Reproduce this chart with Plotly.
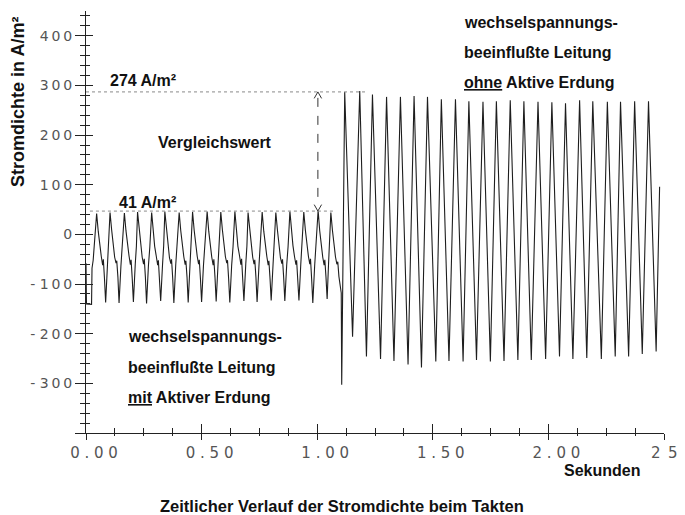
import plotly.graph_objects as go

# ---- data ----
# part 1: "mit Aktiver Erdung" (t in s, current density in A/m²)
t_mit = [0.000, 0.002, 0.024, 0.026, 0.031, 0.036,
         0.046, 0.053, 0.059, 0.066, 0.072, 0.075, 0.080, 0.085, 0.093, 0.098,
         0.104, 0.111, 0.117, 0.124, 0.130, 0.133, 0.138, 0.143, 0.151, 0.156,
         0.166, 0.173, 0.179, 0.186, 0.192, 0.195, 0.200, 0.205, 0.213, 0.218,
         0.223, 0.230, 0.236, 0.243, 0.249, 0.252, 0.257, 0.262, 0.270, 0.276,
         0.284, 0.291, 0.297, 0.304, 0.310, 0.313, 0.318, 0.323, 0.331, 0.336,
         0.341, 0.348, 0.354, 0.361, 0.367, 0.370, 0.375, 0.380, 0.388, 0.394,
         0.403, 0.410, 0.416, 0.423, 0.429, 0.432, 0.437, 0.442, 0.450, 0.455,
         0.461, 0.468, 0.474, 0.481, 0.487, 0.490, 0.495, 0.500, 0.508, 0.514,
         0.524, 0.531, 0.537, 0.544, 0.550, 0.553, 0.558, 0.563, 0.571, 0.576,
         0.583, 0.590, 0.596, 0.603, 0.609, 0.612, 0.617, 0.622, 0.630, 0.636,
         0.644, 0.651, 0.657, 0.664, 0.670, 0.673, 0.678, 0.683, 0.691, 0.696,
         0.701, 0.708, 0.714, 0.721, 0.727, 0.730, 0.735, 0.740, 0.748, 0.754,
         0.762, 0.769, 0.775, 0.782, 0.788, 0.791, 0.796, 0.801, 0.809, 0.814,
         0.821, 0.828, 0.834, 0.841, 0.847, 0.850, 0.855, 0.860, 0.868, 0.874,
         0.882, 0.889, 0.895, 0.902, 0.908, 0.911, 0.916, 0.921, 0.929, 0.934,
         0.942, 0.949, 0.955, 0.962, 0.968, 0.971, 0.976, 0.981, 0.989, 0.995,
         1.004, 1.011, 1.017, 1.024, 1.030, 1.033, 1.038, 1.043, 1.049, 1.053,
         1.059, 1.066, 1.072, 1.079, 1.085, 1.089, 1.094, 1.100, 1.104]
j_mit = [-58, -140, -141, -68, -52, -20,
         42, 6, -24, -44, -62, -50, -90, -137, -60, -22,
         44, 9, -20, -46, -58, -53, -86, -138, -64, -27,
         43, 7, -23, -43, -61, -51, -89, -136, -60, -24,
         45, 8, -21, -46, -60, -49, -87, -139, -63, -26,
         44, 6, -24, -44, -62, -52, -90, -134, -61, -23,
         46, 9, -22, -47, -59, -50, -88, -138, -62, -25,
         44, 7, -20, -45, -61, -53, -86, -137, -60, -22,
         45, 8, -23, -44, -60, -51, -89, -136, -63, -26,
         46, 6, -21, -46, -62, -50, -87, -135, -61, -24,
         45, 9, -22, -45, -58, -52, -90, -137, -62, -25,
         46, 7, -24, -43, -61, -49, -88, -134, -60, -23,
         44, 8, -20, -46, -60, -51, -86, -136, -64, -26,
         45, 6, -23, -44, -62, -53, -89, -133, -61, -24,
         44, 9, -21, -47, -59, -50, -87, -134, -62, -25,
         46, 7, -22, -45, -61, -52, -88, -133, -60, -23,
         45, 8, -24, -44, -60, -49, -90, -138, -63, -26,
         48, 7, -21, -46, -62, -51, -86, -130, -60, -24,
         44, 8, -24, -45, -60, -55, -85, -110, -118]

# part 2: "ohne Aktive Erdung"
t_ohne = [1.106, 1.119, 1.153, 1.184, 1.213, 1.239, 1.274, 1.300, 1.332, 1.360,
          1.393, 1.419, 1.451, 1.477, 1.513, 1.537, 1.570, 1.598, 1.631, 1.656,
          1.689, 1.717, 1.749, 1.775, 1.808, 1.835, 1.868, 1.894, 1.926, 1.955,
          1.988, 2.015, 2.048, 2.074, 2.106, 2.135, 2.166, 2.192, 2.229, 2.255,
          2.289, 2.312, 2.347, 2.373, 2.406, 2.433, 2.466, 2.481]
j_ohne = [-303, 287, -206, 289, -246, 282, -251, 277, -255, 277,
          -262, 279, -268, 277, -256, 272, -255, 272, -256, 268,
          -253, 267, -256, 268, -255, 270, -253, 268, -253, 267,
          -251, 266, -246, 264, -251, 270, -249, 268, -251, 267,
          -246, 267, -246, 268, -241, 268, -236, 96]

# reference levels (drawn) and their labels
ref_high = 287
ref_low = 47
ref_high_label = "274 A/m²"
ref_low_label = "41 A/m²"
ref_high_t = [0.0, 1.214]
ref_low_t = [0.017, 1.080]
arrow_t = 1.003

y_ticks = [-400, -300, -200, -100, 0, 100, 200, 300, 400]
y_ticktext = ["", "- 3\u20090\u20090", "- 2\u20090\u20090", "- 1\u20090\u20090", "0",
              "1\u20090\u20090", "2\u20090\u20090", "3\u20090\u20090", "4\u20090\u20090"]
x_ticks = [0, 0.5, 1.0, 1.5, 2.0, 2.5]
x_ticktext = ["0 . 0 0", "0 . 5 0", "1 . 0 0", "1 . 5 0", "2 . 0 0", ""]
x_last_label = "2\u20025"

X_RANGE = [0, 2.5]
Y_RANGE = [-400, 450]

fig = go.Figure()

# waveform
fig.add_trace(go.Scatter(x=t_mit + t_ohne, y=j_mit + j_ohne, mode="lines",
                         line=dict(color="#1e1e1e", width=1.1),
                         hoverinfo="skip", showlegend=False))

# dotted reference lines (on overlay axes so the overlay subplot exists)
fig.add_trace(go.Scatter(x=ref_high_t, y=[ref_high, ref_high], mode="lines",
                         line=dict(color="#8a8a8a", width=1, dash="dot"),
                         xaxis="x2", yaxis="y2", showlegend=False, hoverinfo="skip"))
fig.add_trace(go.Scatter(x=ref_low_t, y=[ref_low, ref_low], mode="lines",
                         line=dict(color="#8a8a8a", width=1, dash="dot"),
                         xaxis="x2", yaxis="y2", showlegend=False, hoverinfo="skip"))

# dashed double arrow between the two levels
fig.add_trace(go.Scatter(x=[arrow_t, arrow_t], y=[ref_high - 12, ref_low + 12], mode="lines",
                         line=dict(color="#333", width=1, dash="dash"),
                         showlegend=False, hoverinfo="skip"))
dx = 0.016
dy = 13
fig.add_trace(go.Scatter(
    x=[arrow_t - dx, arrow_t, arrow_t + dx, None, arrow_t - dx, arrow_t, arrow_t + dx],
    y=[ref_high - dy, ref_high, ref_high - dy, None, ref_low + dy, ref_low, ref_low + dy],
    mode="lines", line=dict(color="#333", width=1),
    showlegend=False, hoverinfo="skip"))

tick_font = dict(family="DejaVu Sans", size=14, color="#555")
xtick_font = dict(family="DejaVu Sans", size=15, color="#555")
text_font = dict(family="Liberation Sans, Arial, sans-serif", size=16, color="#111")

# the page body adds an 8px offset, so the figure is 8px smaller and margins shifted
fig.update_layout(
    width=677, height=507,
    margin=dict(l=78, r=21, t=3, b=82, autoexpand=False),
    paper_bgcolor="white", plot_bgcolor="white",
    showlegend=False,
    xaxis=dict(range=X_RANGE, showgrid=False, zeroline=False, automargin=False,
               showline=True, linecolor="#222", linewidth=1.3,
               tickmode="array", tickvals=x_ticks, ticktext=x_ticktext,
               ticks="outside", ticklen=6, tickwidth=1.2, tickcolor="#222",
               ticklabelshift=8, tickfont=xtick_font,
               minor=dict(dtick=0.125, tick0=0, ticks="outside", ticklen=2,
                          tickwidth=1, tickcolor="#222", showgrid=False)),
    yaxis=dict(range=Y_RANGE, showgrid=False, zeroline=False, automargin=False,
               showline=True, linecolor="#222", linewidth=1.3,
               tickmode="array", tickvals=y_ticks, ticktext=y_ticktext,
               ticks="outside", ticklen=10, tickwidth=1.2, tickcolor="#222",
               tickfont=tick_font,
               minor=dict(dtick=20, tick0=0, ticks="outside", ticklen=5,
                          tickwidth=1, tickcolor="#222", showgrid=False)),
    xaxis2=dict(range=X_RANGE, overlaying="x", anchor="y2", side="bottom", automargin=False,
                showgrid=False, zeroline=False, showline=False,
                tickmode="array", tickvals=x_ticks, showticklabels=False,
                ticks="inside", ticklen=9, tickwidth=1.2, tickcolor="#222",
                minor=dict(dtick=0.125, tick0=0, ticks="inside", ticklen=5,
                           tickwidth=1, tickcolor="#222", showgrid=False)),
    yaxis2=dict(range=Y_RANGE, overlaying="y", anchor="x2", side="left", automargin=False,
                showgrid=False, zeroline=False, showline=False,
                tickmode="array", tickvals=y_ticks, showticklabels=False,
                ticks="inside", ticklen=7, tickwidth=1.2, tickcolor="#222",
                minor=dict(dtick=20, tick0=0, ticks="inside", ticklen=4,
                           tickwidth=1, tickcolor="#222", showgrid=False)),
)

def note(text, x, y, xanchor="center", xref="x", yref="y", angle=0, size=16, font=None):
    f = dict(font or text_font)
    f["size"] = size
    fig.add_annotation(text=text, x=x, y=y, xref=xref, yref=yref, showarrow=False,
                       xanchor=xanchor, yanchor="middle", textangle=angle, font=f)

# last x tick label (cut at the picture edge in the original)
note(x_last_label, X_RANGE[1], -0.047, xref="x", yref="paper", size=15, font=xtick_font)

note("<b>" + ref_high_label + "</b>", 0.246, 311)
note("<b>Vergleichswert</b>", 0.557, 186)
note("<b>" + ref_low_label + "</b>", 0.268, 65)

note("<b>wechselspannungs-</b>", 1.625, 427, xanchor="left")
note("<b>beeinflußte Leitung</b>", 1.625, 367, xanchor="left")
note("<b><u>ohne</u> Aktive Erdung</b>", 1.625, 307, xanchor="left")

note("<b>wechselspannungs-</b>", 0.173, -206, xanchor="left")
note("<b>beeinflußte Leitung</b>", 0.173, -269, xanchor="left")
note("<b><u>mit</u> Aktiver Erdung</b>", 0.173, -329, xanchor="left")

note("<b>Sekunden</b>", 0.893, -0.089, xref="paper", yref="paper")
note("<b>Zeitlicher Verlauf der Stromdichte beim Takten</b>", 0.443, -0.174,
     xref="paper", yref="paper", size=16.5)
note("<b>Stromdichte in A/m²</b>", -0.118, 0.784, xref="paper", yref="paper", angle=-90, size=18)

fig.write_html("out.html")
